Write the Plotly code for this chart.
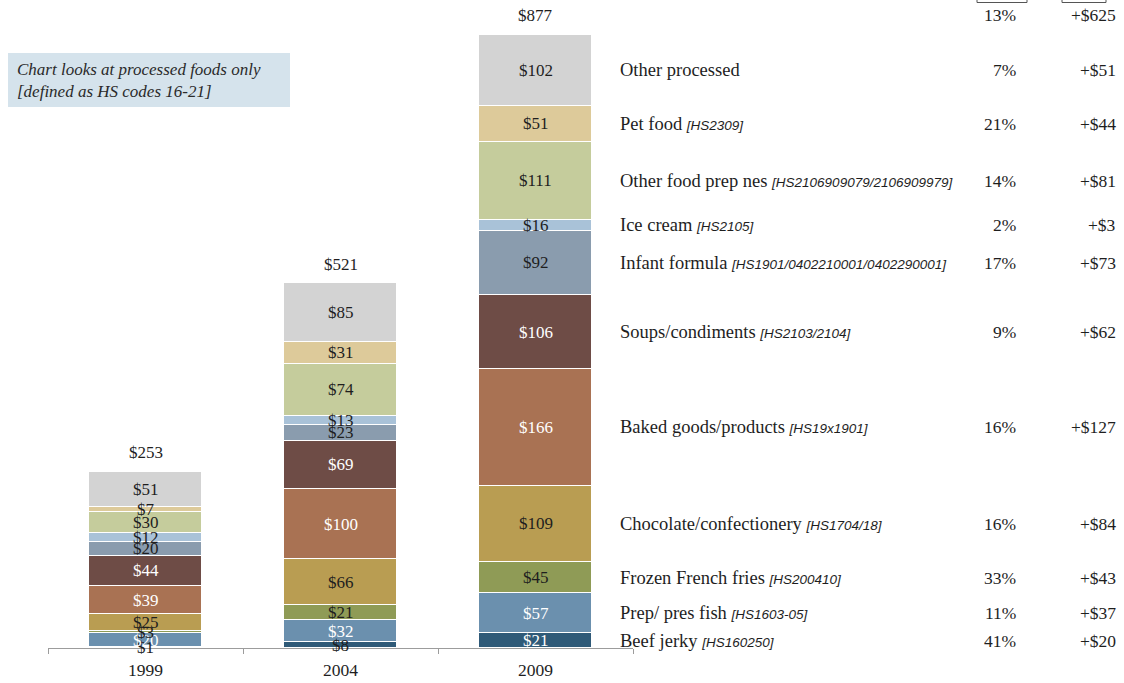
import plotly.graph_objects as go

# ---- data -------------------------------------------------------------
years = ["1999", "2004", "2009"]
totals = [253, 521, 877]

segments = [
    "Beef jerky", "Prep/ pres fish", "Frozen French fries",
    "Chocolate/confectionery", "Baked goods/products", "Soups/condiments",
    "Infant formula", "Ice cream", "Other food prep nes", "Pet food",
    "Other processed",
]
hs_codes = [
    "[HS160250]", "[HS1603-05]", "[HS200410]", "[HS1704/18]", "[HS19x1901]",
    "[HS2103/2104]", "[HS1901/0402210001/0402290001]", "[HS2105]",
    "[HS2106909079/2106909979]", "[HS2309]", "",
]
v1999 = [1, 20, 3, 25, 39, 44, 20, 12, 30, 7, 51]
v2004 = [8, 32, 21, 66, 100, 69, 23, 13, 74, 31, 85]
v2009 = [21, 57, 45, 109, 166, 106, 92, 16, 111, 51, 102]
cagr = ["41%", "11%", "33%", "16%", "16%", "9%", "17%", "2%", "14%", "21%", "7%"]
growth = ["+$20", "+$37", "+$43", "+$84", "+$127", "+$62", "+$73", "+$3",
          "+$81", "+$44", "+$51"]
total_cagr = "13%"
total_growth = "+$625"

# ---- styling ----------------------------------------------------------
colors = ["#2F5A78", "#6B90AE", "#8F9B56", "#B99D52", "#A97253", "#6E4C46",
          "#8A9CAE", "#A9C2D8", "#C5CC9C", "#DDCA9A", "#D3D3D3"]
light_text = [True, True, False, False, True, True, False, False, False, False, False]
SERIF = "Liberation Serif"
SANS = "Liberation Sans"
DARK = "#1e1e1e"

W, H = 1124, 683
L, R, T, B = 48, 633, 34, 648   # plot area in pixels


def px_x(px):
    return (px - L) / (R - L)


def px_y(py):
    return (B - py) / (B - T)


values = [v1999, v2004, v2009]
xs = [0, 1, 2]

fig = go.Figure()
for i, name in enumerate(segments):
    fig.add_trace(go.Bar(
        x=xs, y=[v[i] for v in values], name=name, width=0.58,
        marker=dict(color=colors[i], line=dict(color="white", width=1.5)),
        textposition="none", showlegend=False,
    ))

annotations = []

# value labels centred in every segment
for xi, vals in zip(xs, values):
    base = 0
    for i, v in enumerate(vals):
        mid = base + v / 2
        base += v
        col = "white" if (light_text[i] and v >= 10) else DARK
        annotations.append(dict(
            x=xi, y=mid, xref="x", yref="y", text=f"${v}", showarrow=False,
            font=dict(family=SERIF, size=17, color=col),
        ))

# totals above bars
for xi, t in zip(xs, totals):
    annotations.append(dict(
        x=xi, y=t, xref="x", yref="y", text=f"${t}", showarrow=False,
        yanchor="bottom", yshift=7, font=dict(family=SERIF, size=17, color=DARK),
    ))

# right-hand legend with growth figures, aligned to 2009 segments
base = 0
for i, v in enumerate(v2009):
    mid = base + v / 2
    base += v
    label = segments[i]
    if hs_codes[i]:
        label += (f" <span style='font-family:{SANS};font-size:13.5px'>"
                  f"<i>{hs_codes[i]}</i></span>")
    annotations.append(dict(
        x=px_x(618), y=mid, xref="paper", yref="y", text=label, showarrow=False,
        xanchor="left", font=dict(family=SERIF, size=18.5, color=DARK),
    ))
    annotations.append(dict(
        x=px_x(1018), y=mid, xref="paper", yref="y", text=cagr[i], showarrow=False,
        xanchor="right", font=dict(family=SERIF, size=17.5, color=DARK),
    ))
    annotations.append(dict(
        x=px_x(1118), y=mid, xref="paper", yref="y", text=growth[i], showarrow=False,
        xanchor="right", font=dict(family=SERIF, size=17.5, color=DARK),
    ))

annotations.append(dict(
    x=px_x(1018), y=totals[-1], xref="paper", yref="y", text=total_cagr,
    showarrow=False, xanchor="right", yanchor="bottom", yshift=7,
    font=dict(family=SERIF, size=17.5, color=DARK),
))
annotations.append(dict(
    x=px_x(1118), y=totals[-1], xref="paper", yref="y", text=total_growth,
    showarrow=False, xanchor="right", yanchor="bottom", yshift=7,
    font=dict(family=SERIF, size=17.5, color=DARK),
))

# note box
annotations.append(dict(
    x=px_x(15), y=px_y(80), xref="paper", yref="paper",
    text="<i>Chart looks at processed foods only<br>[defined as HS codes 16-21]</i>",
    showarrow=False, xanchor="left", yanchor="middle", align="left",
    font=dict(family=SERIF, size=17, color="#2a2a2a"),
))

shapes = [
    dict(type="rect", xref="paper", yref="paper",
         x0=px_x(8), x1=px_x(290), y0=px_y(107), y1=px_y(53),
         fillcolor="#D5E3EC", line=dict(width=0), layer="below"),
]
# header brackets over the two right-hand columns
for a, b in [(977, 1027), (1062, 1106)]:
    shapes.append(dict(
        type="path", xref="paper", yref="paper",
        path=(f"M {px_x(a)} {px_y(-3)} L {px_x(a)} {px_y(2.5)} "
              f"L {px_x(b)} {px_y(2.5)} L {px_x(b)} {px_y(-3)}"),
        line=dict(color="#555555", width=1),
    ))

fig.update_layout(
    width=W, height=H, barmode="stack",
    margin=dict(l=L, r=W - R, t=T, b=H - B, pad=0),
    paper_bgcolor="white", plot_bgcolor="white",
    xaxis=dict(
        range=[-0.5, 2.5], tickvals=xs, ticktext=years, showgrid=False,
        showline=True, linecolor="#9c9c9c", linewidth=1, ticks="", zeroline=False,
        ticklabelstandoff=6, automargin=False,
        tickfont=dict(family=SERIF, size=17.5, color=DARK),
        minor=dict(tickvals=[-0.5, 0.5, 1.5, 2.5], ticks="outside", ticklen=5,
                   tickcolor="#9c9c9c", showgrid=False),
    ),
    yaxis=dict(range=[0, 877], visible=False, automargin=False),
    annotations=annotations, shapes=shapes,
    bargap=0,
)

fig.write_html("out.html")
